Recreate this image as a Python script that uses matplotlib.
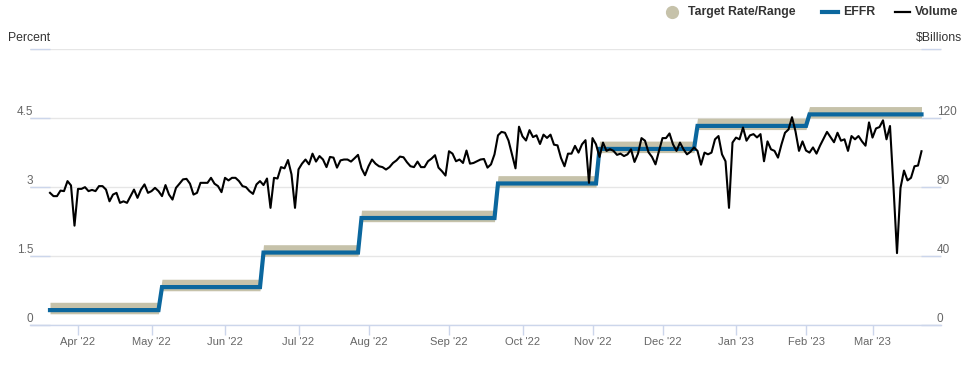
import numpy as np
import pandas as pd
import matplotlib
matplotlib.use("Agg")
import matplotlib.pyplot as plt
from matplotlib.lines import Line2D

plt.rcParams['font.family'] = ['Liberation Sans', 'DejaVu Sans']

# Fed holidays (no EFFR published) in the window
holidays = ['2022-05-30', '2022-06-20', '2022-07-04', '2022-09-05', '2022-10-10',
            '2022-11-11', '2022-11-24', '2022-12-26', '2023-01-02', '2023-01-16',
            '2023-02-20']
start_date = '2022-03-22'

# Policy changes: effective date, EFFR level, target range
change_dates = ['2022-03-17', '2022-05-05', '2022-06-16', '2022-07-28',
                '2022-09-22', '2022-11-03', '2022-12-15', '2023-02-02']
effr_levels = [0.33, 0.83, 1.58, 2.33, 3.08, 3.83, 4.33, 4.58]
target_low = [0.25, 0.75, 1.50, 2.25, 3.00, 3.75, 4.25, 4.50]
target_high = [0.50, 1.00, 1.75, 2.50, 3.25, 4.00, 4.50, 4.75]

# Daily volume, $Billions
volume = [
    76.7, 74.8, 74.8, 78, 77.7, 83.5, 81, 57.7, 79, 79, 80, 77.7, 78.4, 77.7, 80.6, 80.6,
    78.6, 71.8, 75.7, 76.7, 70.9, 71.8, 70.9, 74.8, 78.6, 73.8, 78.6, 81.6, 76.7, 77.7,
    79.6, 77.7, 74.8, 81.2, 75.7, 72.8, 79.6,
    82, 84.5, 84.8, 82, 75.7, 76.7, 82.5, 82.5, 82.5, 85.4, 82, 80.6, 77.1, 85.4, 83.9,
    85.4, 85.4, 83.5, 80.6, 80, 77.7, 76.1, 81.6, 83.5, 81.2, 85, 68, 85.4, 85, 91.6,
    90.9, 95.7, 87.4, 68, 90.3, 93.6,
    96, 93.2, 99.4, 94.8, 98, 96, 91.6, 97.5, 97.1, 91.3, 95.5, 96, 96, 94.8, 96.7, 98.7,
    90.9, 86.9, 92.1, 96, 93.6, 92.1, 91.6, 90.2, 91.6, 94, 95.5, 97.7, 97.3, 94.4, 92.1,
    91.6, 94.8, 91.6, 91.6, 95,
    96.5, 98.5, 91.3, 89.2, 86.7, 100.8, 99.4, 95, 96, 94, 101.2, 93.6, 94, 95, 96, 96.3,
    91.3, 93.2, 99, 110, 112, 111.5, 107, 99, 90.9, 115, 109.4, 107, 113, 109, 110, 105,
    110.4, 108.5, 110.4, 104.6,
    104.2, 96.9, 92.1, 99.4, 99.4, 103.9, 100, 104.8, 107.2, 82.5, 108.4, 104.8, 97.5,
    105.8, 101, 102, 101, 98.7, 99.4, 98, 99, 101.9, 94.6, 99.4, 108.4, 106.9, 100.2,
    97.5, 93.2, 101, 108.4, 108.4, 111.1, 104.8, 101, 105.8,
    101.9, 99, 100.5, 103, 101, 93, 100, 99, 100, 107.7, 109.6, 99, 95, 68, 105.8, 108.7,
    107.7, 114.5, 106.9, 110, 110.7, 108.8, 110.7, 95, 106.5, 101.9, 101, 97.1, 104.8,
    111.5, 113.4, 120.5, 112.3, 101, 106.5, 101.2,
    100, 103, 99.4, 104, 108, 112, 109, 106, 111.5, 106.9, 107.7, 101, 109.6, 107.7, 109.6,
    106.5, 104, 117.5, 108.7, 114, 114.8, 118.7, 107.7, 115.4, 80, 41.8, 79.6, 89.6, 83.9,
    85.4, 92.1, 92.5, 100.8,
]

dates = pd.bdate_range(start_date, periods=len(volume), freq='C', holidays=holidays)
idx = np.arange(len(dates))
seg = np.searchsorted(pd.to_datetime(change_dates).values, dates.values, side='right') - 1
effr = np.array(effr_levels)[seg]
low = np.array(target_low)[seg]
high = np.array(target_high)[seg]

# month-start ticks
months = dates.to_period('M')
tick_pos = [i for i in range(1, len(dates)) if months[i] != months[i - 1]]
tick_lab = [dates[i].strftime("%b '%y") for i in tick_pos]

W, H = 975, 373
fig = plt.figure(figsize=(W / 100, H / 100), dpi=100)
ax = fig.add_axes([30 / W, 1 - 325.3 / H, (941 - 30) / W, (325.3 - 49) / H])
ax2 = ax.twinx()

GRID = '#e6e6e6'
TICK = '#ccd6eb'
BAND = '#c6c2aa'
BLUE = '#0b679e'

ax.fill_between(idx, low, high, color=BAND, lw=0, zorder=2)
ax.plot(idx, effr, color=BLUE, lw=3.0, solid_joinstyle='miter', zorder=3)
ax2.plot(idx, volume, color='black', lw=1.5, zorder=4)

px_per_i = 3.5
ax.set_xlim(-20 / px_per_i, len(idx) - 1 + 19.5 / px_per_i)
ax.set_ylim(0, 6)
ax2.set_ylim(0, 160)

ax.set_yticks([0, 1.5, 3, 4.5, 6])
ax.set_yticklabels(['0', '1.5', '3', '4.5', ''])
ax2.set_yticks([0, 40, 80, 120, 160])
ax2.set_yticklabels(['0', '40', '80', '120', ''])

ax.grid(axis='y', color=GRID, lw=1)
ax.set_axisbelow(True)
ax.tick_params(axis='y', direction='in', length=14.4, color=TICK, width=1,
               labelsize=8.5, labelcolor='#666666', pad=-2.2, right=False)
ax2.tick_params(axis='y', direction='in', length=14.4, color=TICK, width=1,
                labelsize=8.5, labelcolor='#666666', pad=-2.9, left=False)
for lab in ax.get_yticklabels() + ax2.get_yticklabels():
    lab.set_va('bottom')

ax.set_xticks(tick_pos)
ax.set_xticklabels(tick_lab)
ax.tick_params(axis='x', direction='out', length=7.2, color=TICK, width=1,
               labelsize=8.0, labelcolor='#666666', pad=1.5)

for a in (ax, ax2):
    for s in ('top', 'left', 'right', 'bottom'):
        a.spines[s].set_visible(False)
ax.spines['bottom'].set_visible(True)
ax.spines['bottom'].set_color(TICK)
ax.spines['bottom'].set_linewidth(1)

# axis titles
fig.text(8 / W, 1 - 38 / H, 'Percent', fontsize=8.8, color='#333333', va='center', ha='left')
fig.text(962 / W, 1 - 38 / H, '$Billions', fontsize=8.8, color='#333333', va='center', ha='right')

# legend
ly = 1 - 12 / H
fig.add_artist(Line2D([672 / W], [ly], marker='o', ms=8.5, color=BAND, lw=0,
                      transform=fig.transFigure))
fig.text(688 / W, ly, 'Target Rate/Range', fontsize=8.8, fontweight='bold',
         color='#333333', va='center', ha='left')
fig.add_artist(Line2D([822 / W, 838 / W], [ly, ly], color=BLUE, lw=3,
                      transform=fig.transFigure))
fig.text(843 / W, ly, 'EFFR', fontsize=8.8, fontweight='bold',
         color='#333333', va='center', ha='left')
fig.add_artist(Line2D([895 / W, 910 / W], [ly, ly], color='black', lw=1.6,
                      transform=fig.transFigure))
fig.text(915 / W, ly, 'Volume', fontsize=8.8, fontweight='bold',
         color='#333333', va='center', ha='left')

fig.savefig('out.png', dpi=100)
